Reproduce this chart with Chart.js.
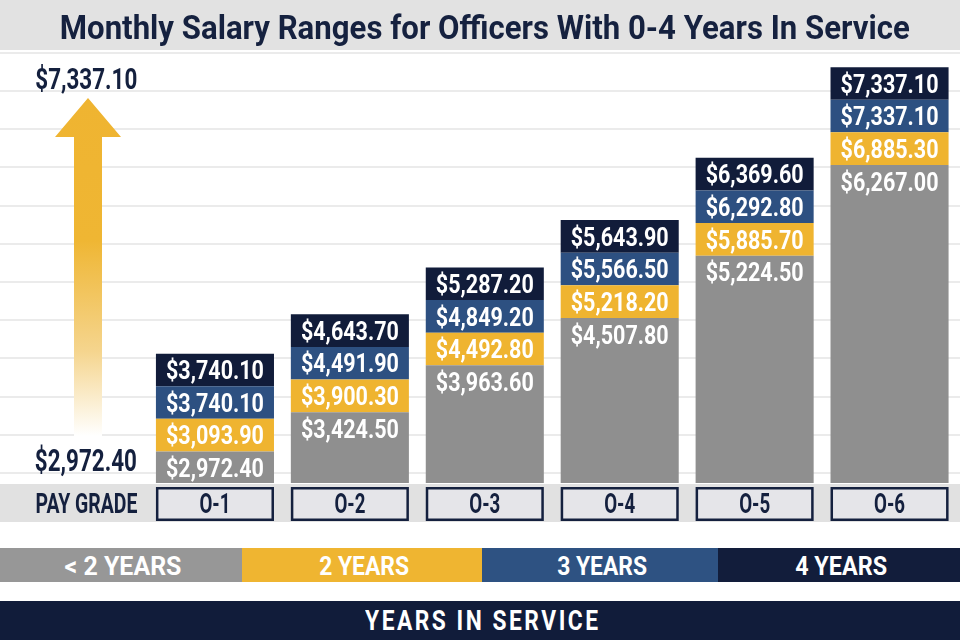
<!DOCTYPE html>
<html><head><meta charset="utf-8">
<script src="https://cdn.jsdelivr.net/npm/chart.js@4.4.1/dist/chart.umd.min.js"></script>
<style>
html,body{margin:0;padding:0;background:#fff;width:960px;height:640px;overflow:hidden;font-family:Roboto,"Liberation Sans",sans-serif;}
#wrap{position:relative;width:960px;height:640px;}
#c{position:absolute;left:0;top:0;}
.band{position:absolute;}
.txt{position:absolute;white-space:nowrap;text-align:center;font-weight:700;}
.txt span{display:inline-block;transform-origin:50% 50%;}
</style></head>
<body><div id="wrap">
<div class="band" style="left:0;top:0;width:960px;height:50px;background:#e2e2e2"></div>
<canvas id="c" width="960" height="640"></canvas>
</div>
<script>
// ---------- data ----------
const payGrades = ['O-1', 'O-2', 'O-3', 'O-4', 'O-5', 'O-6'];
const lessThan2Years = [2972.40, 3424.50, 3963.60, 4507.80, 5224.50, 6267.00];
const twoYears = [3093.90, 3900.30, 4492.80, 5218.20, 5885.70, 6885.30];
const threeYears = [3740.10, 4491.90, 4849.20, 5566.50, 6292.80, 7337.10];
const fourYears = [3740.10, 4643.70, 5287.20, 5643.90, 6369.60, 7337.10];
const serviceLabels = ['< 2 YEARS', '2 YEARS', '3 YEARS', '4 YEARS'];
const titleText = 'Monthly Salary Ranges for Officers With 0-4 Years In Service';
const axisTitle = 'YEARS IN SERVICE';
const rowLabel = 'PAY GRADE';

// ---------- style ----------
const COLORS = ['#8f8f8f', '#efb430', '#2d5081', '#111c3a'];
const LEGEND_COLORS = ['#979797', '#efb531', '#2e5282', '#121d3b'];
const NAVY = '#14203e';
const BAND = 375;            // visual height of each labelled band (axis units)
const Y_MIN = 2610, Y_MAX = 7589;
const FONT = 'Roboto, "Liberation Sans", sans-serif';

const series = [lessThan2Years, twoYears, threeYears, fourYears];
const fmt = v => '$' + v.toLocaleString('en-US', {minimumFractionDigits: 2, maximumFractionDigits: 2});

const wrap = document.getElementById('wrap');

function placeText(text, cx, baseline, size, width, color, spacing) {
  const d = document.createElement('div');
  d.className = 'txt';
  d.style.cssText = `left:${cx - 600}px;width:1200px;top:${baseline - 0.842 * size}px;font-size:${size}px;line-height:${size}px;color:${color};letter-spacing:${spacing || 0}px`;
  const s = document.createElement('span');
  s.textContent = text;
  d.appendChild(s);
  wrap.appendChild(d);
  const w = s.getBoundingClientRect().width - (spacing || 0);
  s.style.transform = `scaleX(${width / w})`;
}
function addBand(x, y, w, h, color) {
  const d = document.createElement('div');
  d.className = 'band';
  d.style.cssText = `left:${x}px;top:${y}px;width:${w}px;height:${h}px;background:${color}`;
  wrap.appendChild(d);
}
function fitScale(ctx, text, size, targetW) {
  ctx.save();
  ctx.font = `700 ${size}px ${FONT}`;
  const w = ctx.measureText(text).width;
  ctx.restore();
  return targetW / w;
}
function drawText(ctx, text, cx, baseline, size, sx, color) {
  ctx.save();
  ctx.font = `700 ${size}px ${FONT}`;
  ctx.fillStyle = color;
  ctx.textAlign = 'center';
  ctx.textBaseline = 'alphabetic';
  ctx.translate(cx, baseline);
  ctx.scale(sx, 1);
  ctx.fillText(text, 0, 0);
  ctx.restore();
}

const infographic = {
  id: 'infographic',
  beforeDraw(chart) {
    const ctx = chart.ctx;
    const area = chart.chartArea;
    const g = chart.scales.grid;
    ctx.save();
    // background grid lines across the full width
    ctx.strokeStyle = '#ebebeb';
    ctx.lineWidth = 2;
    for (let k = Math.ceil(g.min); k <= Math.floor(g.max); k++) {
      const y = Math.round(g.getPixelForValue(k));
      ctx.beginPath(); ctx.moveTo(0, y); ctx.lineTo(chart.width, y); ctx.stroke();
    }
    // rising arrow
    const grad = ctx.createLinearGradient(0, 98, 0, 436);
    grad.addColorStop(0, '#efb431');
    grad.addColorStop(0.42, '#efb633');
    grad.addColorStop(0.75, '#f5d58e');
    grad.addColorStop(1, '#ffffff');
    ctx.fillStyle = grad;
    ctx.beginPath();
    ctx.moveTo(88, 98); ctx.lineTo(121, 137); ctx.lineTo(102, 137); ctx.lineTo(102, 436);
    ctx.lineTo(74, 436); ctx.lineTo(74, 137); ctx.lineTo(55, 137); ctx.closePath();
    ctx.fill();
    // pay-grade row
    ctx.fillStyle = '#e1e1e1';
    ctx.fillRect(0, area.bottom + 1, chart.width, 38);
    const meta = chart.getDatasetMeta(0);
    const sx = fitScale(ctx, 'O-4', 28, 31);
    meta.data.forEach((bar, i) => {
      const x0 = bar.x - bar.width / 2;
      ctx.fillStyle = '#e5e5e9';
      ctx.fillRect(x0, area.bottom + 4, bar.width, 34);
      ctx.strokeStyle = NAVY;
      ctx.lineWidth = 2.5;
      ctx.strokeRect(x0 + 1.25, area.bottom + 5.25, bar.width - 2.5, 31.5);
      drawText(ctx, chart.data.labels[i], bar.x, area.bottom + 30, 28, sx, NAVY);
    });
    ctx.restore();
  },
  afterDatasetsDraw(chart) {
    const ctx = chart.ctx;
    const size = 26;
    const sx = fitScale(ctx, '$7,337.10', size, 98);
    const bandPx = chart.scales.y.getPixelForValue(Y_MIN) - chart.scales.y.getPixelForValue(Y_MIN + BAND);
    chart.data.datasets.forEach((ds, di) => {
      chart.getDatasetMeta(di).data.forEach((el, j) => {
        const center = di === 0 ? el.y + bandPx / 2 : (el.y + el.base) / 2;
        drawText(ctx, fmt(ds.values[j]), el.x, center + 0.711 * size / 2, size, sx, '#ffffff');
      });
    });
  }
};

function build() {
  // header / footer text
  placeText(titleText, 485, 39, 34, 850, '#15213f');
  placeText(fmt(Math.max(...fourYears)), 86, 89, 30, 102, NAVY);
  placeText(fmt(Math.min(...lessThan2Years)), 86, 471, 32, 102, NAVY);
  placeText(rowLabel, 86, 514, 28, 102, NAVY);
  const segs = [[0, 242], [242, 482], [482, 718], [718, 960]];
  const widths = [117, 90, 90, 92];
  segs.forEach((s, i) => {
    addBand(s[0], 548, s[1] - s[0], 34, LEGEND_COLORS[i]);
  });
  segs.forEach((s, i) => {
    placeText(serviceLabels[i], (s[0] + s[1]) / 2 + 2, 575, 26, widths[i], '#ffffff');
  });
  addBand(0, 601, 960, 39, '#111c3a');
  placeText(axisTitle, 483, 631, 27, 233, '#ffffff', 3);

  new Chart(document.getElementById('c'), {
    type: 'bar',
    data: {
      labels: payGrades,
      datasets: series.map((vals, i) => ({
        label: serviceLabels[i],
        data: i === 0 ? vals : vals.map(() => BAND),
        values: vals,
        backgroundColor: COLORS[i],
        borderWidth: 0,
        barPercentage: 0.875,
        categoryPercentage: 1,
        stack: 'salary'
      }))
    },
    options: {
      responsive: false,
      animation: false,
      devicePixelRatio: 1,
      layout: {padding: {left: 147.5, right: 3, top: 50, bottom: 157}},
      plugins: {legend: {display: false}, tooltip: {enabled: false}, title: {display: false}},
      scales: {
        x: {type: 'category', display: false, stacked: true},
        y: {type: 'linear', display: false, stacked: true, min: Y_MIN, max: Y_MAX},
        grid: {type: 'linear', axis: 'y', display: false, min: -0.26, max: 11.07, ticks: {stepSize: 1}}
      }
    },
    plugins: [infographic]
  });
}

const ready = document.fonts && document.fonts.load
  ? Promise.all([document.fonts.load(`700 26px Roboto`)]).catch(() => {})
  : Promise.resolve();
Promise.race([ready, new Promise(r => setTimeout(r, 800))]).then(build);
</script>
</body></html>
